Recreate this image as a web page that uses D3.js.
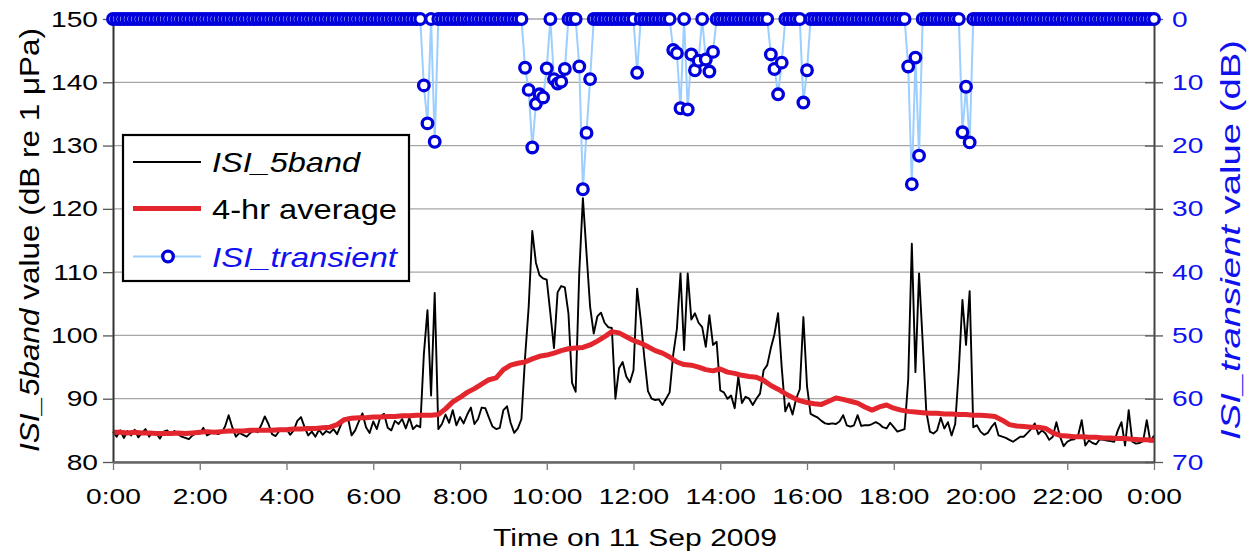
<!DOCTYPE html>
<html>
<head>
<meta charset="utf-8">
<script src="https://cdn.jsdelivr.net/npm/d3@7"></script>
<style>
  html, body { margin: 0; padding: 0; background: #fff; }
  svg { display: block; }
  text { font-family: "Liberation Sans", Arial, sans-serif; }
</style>
</head>
<body>
<svg id="chart" width="1255" height="552"></svg>
<script>
// ISI_5band broadband level, one sample every 5 minutes (dB re 1 µPa)
const bandStepMin = 5;
const isi5band = [
  84.8,84.0,85.0,83.8,84.9,84.2,85.1,83.9,84.6,85.2,84.0,84.7,
  84.5,83.7,84.8,85.0,84.3,84.9,84.4,84.0,83.8,83.6,84.2,84.6,
  84.5,85.4,84.2,84.5,84.8,84.4,84.6,85.6,87.4,85.5,84.0,84.6,
  84.3,84.0,84.6,85.0,84.7,85.8,87.2,86.0,84.4,84.1,84.9,85.0,
  85.2,84.3,85.0,86.5,87.1,85.5,84.2,84.8,84.0,85.1,84.3,84.9,
  84.6,85.2,84.4,85.8,86.9,87.0,84.2,85.0,86.4,87.7,85.5,84.6,
  86.4,85.2,87.2,87.6,85.4,85.0,86.5,86.0,86.8,85.3,87.0,85.2,
  85.8,85.5,97.0,104.0,90.5,106.7,85.2,86.0,87.5,86.2,88.2,85.8,
  87.1,86.1,87.5,88.6,86.0,86.8,88.6,88.5,87.0,85.6,85.2,85.4,
  88.2,88.8,86.2,84.6,85.3,86.8,96.5,104.5,116.5,111.5,109.5,109.0,
  108.8,103.5,98.0,106.8,107.8,107.6,103.5,92.5,91.1,110.0,121.7,113.0,
  104.5,100.3,103.0,103.6,102.0,101.3,101.2,90.0,94.8,95.8,93.5,92.6,
  94.5,107.4,102.5,96.5,91.2,90.0,89.8,89.9,89.0,90.0,91.0,97.0,
  101.0,109.8,97.7,109.8,102.5,103.5,102.0,101.3,98.2,103.2,98.5,99.0,
  91.3,91.0,90.0,90.5,88.5,93.5,89.3,90.3,90.0,89.0,90.0,90.8,
  94.5,95.3,98.0,100.2,103.5,95.0,88.0,89.3,87.5,90.0,91.5,102.9,
  92.0,87.6,87.3,87.0,86.5,86.1,86.0,86.1,86.0,86.4,87.4,85.8,
  85.6,85.8,87.4,85.7,85.8,85.8,86.0,86.3,86.0,85.5,85.3,86.2,
  85.5,84.8,85.0,85.2,93.0,114.5,94.2,109.8,99.0,88.0,84.8,84.5,
  85.0,87.0,85.3,86.3,84.2,86.0,94.5,105.6,98.5,107.0,85.5,85.8,
  84.8,84.3,84.6,85.5,86.2,84.2,84.0,83.8,83.5,83.2,83.6,84.0,
  84.0,84.6,85.2,86.1,84.4,85.0,84.5,83.5,84.0,86.3,84.0,82.5,
  83.2,83.5,83.6,84.2,86.6,82.6,83.4,83.0,82.8,83.6,83.5,83.4,
  83.3,83.2,85.0,86.3,82.6,88.2,83.2,82.9,83.0,83.3,86.6,83.2,
  84.2
];

// 4-hour running average, one value every 10 minutes (dB re 1 µPa)
const avgStepMin = 10;
const avg4hr = [
  84.7,84.7,84.6,84.7,84.6,84.6,84.5,84.5,84.5,84.6,84.5,84.6,
  84.7,84.8,84.7,84.8,84.9,84.9,84.9,85.0,85.0,85.0,85.0,85.1,
  85.1,85.2,85.2,85.3,85.3,85.4,85.5,85.9,86.7,86.9,87.0,87.0,
  87.1,87.1,87.2,87.2,87.3,87.3,87.4,87.4,87.4,87.5,88.4,89.5,
  90.2,91.0,91.6,92.3,93.0,93.3,94.6,95.3,95.6,95.8,96.3,96.7,
  96.9,97.2,97.6,97.9,98.0,98.1,98.5,99.1,99.8,100.6,100.4,99.8,
  99.2,98.8,98.2,97.6,97.2,96.6,95.8,95.4,95.3,95.0,94.6,94.4,
  94.7,94.2,94.0,93.7,93.5,93.4,92.9,92.1,91.5,90.8,90.2,89.7,
  89.4,89.2,89.1,89.6,90.1,89.9,89.6,89.3,88.7,88.2,88.7,89.0,
  88.5,88.2,88.0,87.9,87.8,87.7,87.7,87.6,87.6,87.5,87.5,87.4,
  87.4,87.3,87.2,86.6,85.9,85.7,85.6,85.5,85.5,85.3,84.6,84.2,
  84.1,84.0,84.0,83.9,83.9,83.8,83.8,83.7,83.7,83.6,83.5,83.5,
  83.4
];

// ISI_transient, one sample every 5 minutes (dB, 0 = no transient)
const isiTransient = [
  0,0,0,0,0,0,0,0,0,0,0,0,
  0,0,0,0,0,0,0,0,0,0,0,0,
  0,0,0,0,0,0,0,0,0,0,0,0,
  0,0,0,0,0,0,0,0,0,0,0,0,
  0,0,0,0,0,0,0,0,0,0,0,0,
  0,0,0,0,0,0,0,0,0,0,0,0,
  0,0,0,0,0,0,0,0,0,0,0,0,
  0,0,10.5,16.5,0,19.4,0,0,0,0,0,0,
  0,0,0,0,0,0,0,0,0,0,0,0,
  0,0,0,0,0,0,7.7,11.2,20.3,13.4,11.9,12.4,
  7.8,0,9.5,10.2,9.9,7.9,0,0,0,7.5,26.9,18.0,
  9.5,0,0,0,0,0,0,0,0,0,0,0,
  0,8.5,0,0,0,0,0,0,0,0,0,4.9,
  5.4,14.1,0,14.3,5.6,8.1,6.6,0,6.4,8.3,5.2,0,
  0,0,0,0,0,0,0,0,0,0,0,0,
  0,0,5.6,7.9,11.9,6.9,0,0,0,0,0,13.2,
  8.1,0,0,0,0,0,0,0,0,0,0,0,
  0,0,0,0,0,0,0,0,0,0,0,0,
  0,0,0,0,7.5,26.1,6.1,21.6,0,0,0,0,
  0,0,0,0,0,0,0,17.9,10.7,19.5,0,0,
  0,0,0,0,0,0,0,0,0,0,0,0,
  0,0,0,0,0,0,0,0,0,0,0,0,
  0,0,0,0,0,0,0,0,0,0,0,0,
  0,0,0,0,0,0,0,0,0,0,0,0,
  0
];

// Axis ticks and labels
const hourTicks = [0, 2, 4, 6, 8, 10, 12, 14, 16, 18, 20, 22, 24];
const hourTickLabels = ["0:00","2:00","4:00","6:00","8:00","10:00","12:00",
                        "14:00","16:00","18:00","20:00","22:00","0:00"];
const bandTicks = [80, 90, 100, 110, 120, 130, 140, 150];
const transientTicks = [0, 10, 20, 30, 40, 50, 60, 70];

const plot = { left: 113, right: 1154, top: 19, bottom: 462 };
const BLUE = "#0000dc";
const TEXT_BLUE = "#1010f0";
const RED = "#e3262d";
const LIGHT_BLUE = "#9ccfff";
const MARKER_R = 5.3;
const MARKER_W = 3.3;

const svg = d3.select("#chart");

const x = d3.scaleLinear().domain([0, 24]).range([plot.left, plot.right]);
const yBand = d3.scaleLinear().domain([80, 150]).range([plot.bottom, plot.top]);
const yTrans = d3.scaleLinear().domain([0, 70]).range([plot.top, plot.bottom]);

const hourOf = (stepMin) => (d, i) => i * stepMin / 60;

// Widen glyphs of a text element horizontally (in its own frame) about its anchor
function widen(sel, sx) {
  sel.each(function () {
    const t = d3.select(this);
    const ax = +t.attr("x") || 0;
    t.attr("transform", `translate(${ax},0) scale(${sx},1) translate(${-ax},0)`);
  });
}

// Horizontal gridlines
svg.append("g")
  .selectAll("line")
  .data(bandTicks)
  .join("line")
  .attr("x1", plot.left).attr("x2", plot.right)
  .attr("y1", d => yBand(d)).attr("y2", d => yBand(d))
  .attr("stroke", "#a6a6a6").attr("stroke-width", 1.3);

// ISI_5band line
const bandLine = d3.line()
  .x((d, i) => x(hourOf(bandStepMin)(d, i)))
  .y(d => yBand(d));
svg.append("path")
  .datum(isi5band)
  .attr("d", bandLine)
  .attr("fill", "none").attr("stroke", "#000").attr("stroke-width", 1.9)
  .attr("stroke-linejoin", "round");

// 4-hr average line
const avgLine = d3.line()
  .x((d, i) => x(hourOf(avgStepMin)(d, i)))
  .y(d => yBand(d));
svg.append("path")
  .datum(avg4hr)
  .attr("d", avgLine)
  .attr("fill", "none").attr("stroke", RED).attr("stroke-width", 5)
  .attr("stroke-linejoin", "round");

// Axes
const axisLeft = svg.append("g")
  .attr("transform", `translate(${plot.left},0)`)
  .call(d3.axisLeft(yBand).tickValues(bandTicks).tickSize(10).tickPadding(5).tickSizeOuter(0));
axisLeft.select(".domain").attr("stroke", "#333").attr("stroke-width", 2);
axisLeft.selectAll(".tick line").attr("stroke", "#555").attr("stroke-width", 1.3);
axisLeft.selectAll(".tick text")
  .attr("font-size", 22).attr("fill", "#000")
  .call(widen, 1.28);

const axisBottom = svg.append("g")
  .attr("transform", `translate(0,${plot.bottom})`)
  .call(d3.axisBottom(x).tickValues(hourTicks)
    .tickFormat((d, i) => hourTickLabels[i]).tickSize(8).tickPadding(18).tickSizeOuter(0));
axisBottom.select(".domain").attr("stroke", "#666").attr("stroke-width", 2.5);
axisBottom.selectAll(".tick line").attr("stroke", "#777").attr("stroke-width", 1.3);
axisBottom.selectAll(".tick text")
  .attr("font-size", 22).attr("fill", "#000")
  .call(widen, 1.28);

const axisRight = svg.append("g")
  .attr("transform", `translate(${plot.right},0)`)
  .call(d3.axisRight(yTrans).tickValues(transientTicks).tickSize(9).tickPadding(9).tickSizeOuter(0));
axisRight.select(".domain").attr("stroke", "#444").attr("stroke-width", 2);
axisRight.selectAll(".tick line").attr("x1", -9).attr("stroke", "#555").attr("stroke-width", 1.3);
axisRight.selectAll(".tick text")
  .attr("font-size", 22).attr("fill", TEXT_BLUE)
  .call(widen, 1.28);

// ISI_transient line and markers
const transLine = d3.line()
  .x((d, i) => x(hourOf(bandStepMin)(d, i)))
  .y(d => yTrans(d));
svg.append("path")
  .datum(isiTransient)
  .attr("d", transLine)
  .attr("fill", "none").attr("stroke", LIGHT_BLUE).attr("stroke-width", 2);

svg.append("g")
  .selectAll("circle")
  .data(isiTransient)
  .join("circle")
  .attr("cx", (d, i) => x(hourOf(bandStepMin)(d, i)))
  .attr("cy", d => yTrans(d))
  .attr("r", MARKER_R)
  .attr("fill", "#fff").attr("stroke", BLUE).attr("stroke-width", MARKER_W);

// Axis titles
const leftTitle = svg.append("text")
  .attr("transform", "translate(39,240) rotate(-90)")
  .attr("text-anchor", "middle")
  .attr("font-size", 27)
  .attr("textLength", 424).attr("lengthAdjust", "spacingAndGlyphs");
leftTitle.append("tspan").attr("font-style", "italic").text("ISI_5band");
leftTitle.append("tspan").text(" value (dB re 1 \u03bcPa)");

const rightTitle = svg.append("text")
  .attr("transform", "translate(1240,240) rotate(-90)")
  .attr("text-anchor", "middle")
  .attr("font-size", 27)
  .attr("fill", TEXT_BLUE)
  .attr("textLength", 400).attr("lengthAdjust", "spacingAndGlyphs");
rightTitle.append("tspan").attr("font-style", "italic").text("ISI_transient");
rightTitle.append("tspan").text(" value (dB)");

svg.append("text")
  .attr("x", 635).attr("y", 546)
  .attr("text-anchor", "middle")
  .attr("font-size", 23)
  .attr("textLength", 284).attr("lengthAdjust", "spacingAndGlyphs")
  .text("Time on 11 Sep 2009");

// Legend
const legend = svg.append("g");
legend.append("rect")
  .attr("x", 123).attr("y", 135).attr("width", 286).attr("height", 146)
  .attr("fill", "#fff").attr("stroke", "#000").attr("stroke-width", 2.2);

const legendItems = [
  { label: "ISI_5band", italic: true, color: "#000", y: 162, width: 148 },
  { label: "4-hr average", italic: false, color: "#000", y: 208.5, width: 185 },
  { label: "ISI_transient", italic: true, color: TEXT_BLUE, y: 256.5, width: 185 }
];

legend.append("line")
  .attr("x1", 133).attr("x2", 201).attr("y1", legendItems[0].y).attr("y2", legendItems[0].y)
  .attr("stroke", "#000").attr("stroke-width", 1.9);
legend.append("line")
  .attr("x1", 133).attr("x2", 201).attr("y1", legendItems[1].y).attr("y2", legendItems[1].y)
  .attr("stroke", RED).attr("stroke-width", 5);
legend.append("line")
  .attr("x1", 133).attr("x2", 201).attr("y1", legendItems[2].y).attr("y2", legendItems[2].y)
  .attr("stroke", LIGHT_BLUE).attr("stroke-width", 2);
legend.append("circle")
  .attr("cx", 168).attr("cy", legendItems[2].y).attr("r", MARKER_R)
  .attr("fill", "#fff").attr("stroke", BLUE).attr("stroke-width", MARKER_W);

legend.selectAll("text.lbl")
  .data(legendItems)
  .join("text")
  .attr("class", "lbl")
  .attr("x", 212).attr("y", d => d.y + 10)
  .attr("font-size", 28)
  .attr("font-style", d => d.italic ? "italic" : "normal")
  .attr("fill", d => d.color)
  .attr("textLength", d => d.width).attr("lengthAdjust", "spacingAndGlyphs")
  .text(d => d.label);
</script>
</body>
</html>
